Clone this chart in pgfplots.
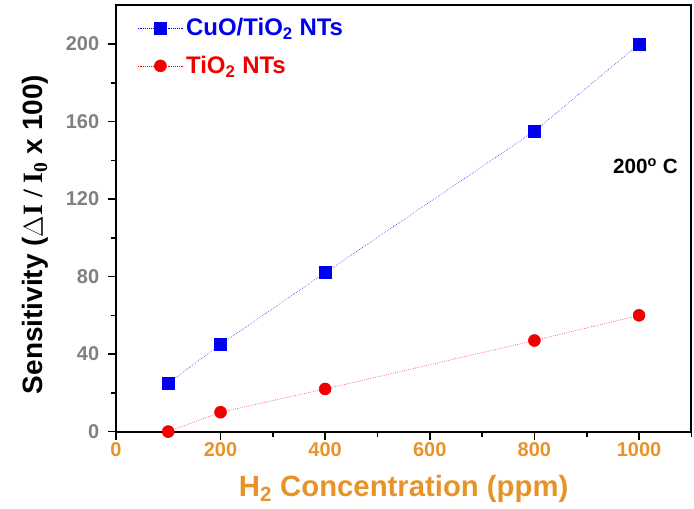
\documentclass[border=0pt]{standalone}
\usepackage{pgfplots}
\pgfplotsset{compat=1.18}
\usepackage{fontspec}
\setmainfont{Liberation Sans}
\newfontfamily\serif{Liberation Serif}
\definecolor{orng}{RGB}{232,146,42}
\definecolor{gry}{RGB}{128,128,128}
\definecolor{myblue}{RGB}{0,0,240}
\definecolor{myred}{RGB}{240,0,0}
\begin{document}
\begin{tikzpicture}
\begin{axis}[
  scale only axis,
  width=432pt, height=320pt,
  xmin=0, xmax=1100, ymin=0, ymax=220,
  xtick={0,200,...,1000}, minor xtick={100,300,...,1100},
  ytick={0,40,...,200}, minor ytick={20,60,...,180},
  tick align=outside, xtick pos=bottom, ytick pos=left,
  major tick length=6pt, minor tick length=4pt,
  every tick/.style={black, line width=1.2pt},
  axis line style={line width=1.5pt},
  /pgf/number format/assume math mode=true,
  /pgf/number format/1000 sep={},
  x tick label style={font=\fontsize{15}{15}\selectfont\bfseries, text=orng, yshift=1pt},
  y tick label style={font=\fontsize{15}{15}\selectfont\bfseries, text=gry, xshift=-3pt},
  xlabel={\textcolor{orng}{H\textsubscript{2} Concentration (ppm)}},
  ylabel={Sensitivity ({\serif$\Delta$I / I\textsubscript{0}} x 100)},
  xlabel style={font=\fontsize{22}{22}\selectfont\bfseries, yshift=-7pt},
  ylabel style={font=\fontsize{21}{21}\selectfont\bfseries, yshift=6pt, xshift=-12pt},
  legend style={draw=none, fill=none, at={(0.03,0.983)}, anchor=north west, font=\fontsize{18}{18}\selectfont\bfseries, row sep=10pt},
  legend cell align=left,
  legend image code/.code={\draw[#1, mark repeat=2, mark phase=2] plot coordinates {(0cm,0cm) (0.6cm,0cm) (1.2cm,0cm)};},
]
\addplot[myblue, densely dotted, thin, mark=square*, mark size=4.5pt, mark options={solid, fill=myblue}]
  coordinates {(100,25) (200,45) (400,82) (800,155) (1000,200)};
\addlegendentry{\textcolor{myblue}{CuO/TiO\textsubscript{2} NTs}}
\addplot[myred, densely dotted, thin, mark=*, mark size=4.5pt, mark options={solid, fill=myred}]
  coordinates {(100,0) (200,10) (400,22) (800,47) (1000,60)};
\addlegendentry{\textcolor{myred}{TiO\textsubscript{2} NTs}}
\node[font=\fontsize{15.5}{15.5}\selectfont\bfseries, anchor=east] at (axis cs:1083,137) {200\textsuperscript{o} C};
\end{axis}
\pgfresetboundingbox
\path[use as bounding box] ([shift={(-87pt,-58pt)}]current axis.south west) rectangle ([shift={(2pt,4pt)}]current axis.north east);
\end{tikzpicture}
\end{document}
